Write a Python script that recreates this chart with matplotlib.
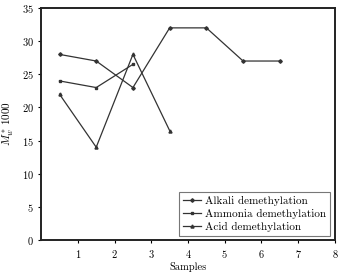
import matplotlib
matplotlib.use("Agg")
import matplotlib.pyplot as plt

plt.rcParams['font.family'] = 'serif'
plt.rcParams['font.serif'] = ['cmr10', 'DejaVu Serif']
plt.rcParams['mathtext.fontset'] = 'cm'
plt.rcParams['axes.formatter.use_mathtext'] = True

alkali_x = [0.5, 1.5, 2.5, 3.5, 4.5, 5.5, 6.5]
alkali_y = [28, 27, 23, 32, 32, 27, 27]
ammonia_x = [0.5, 1.5, 2.5]
ammonia_y = [24, 23, 26.5]
acid_x = [0.5, 1.5, 2.5, 3.5]
acid_y = [22, 14, 28, 16.5]

xticks = [1, 2, 3, 4, 5, 6, 7, 8]
yticks = [0, 5, 10, 15, 20, 25, 30, 35]

fig = plt.figure(figsize=(3.4, 2.75), dpi=100)
ax = fig.add_axes([0.121, 0.127, 0.864, 0.844])

lc = '#333333'
ax.plot(alkali_x, alkali_y, color=lc, lw=0.9, marker='D', ms=1.8, label='Alkali demethylation')
ax.plot(ammonia_x, ammonia_y, color=lc, lw=0.9, marker='s', ms=1.8, label='Ammonia demethylation')
ax.plot(acid_x, acid_y, color=lc, lw=0.9, marker='^', ms=2.2, label='Acid demethylation')

ax.set_xlim(0, 8)
ax.set_ylim(0, 35)
ax.set_xticks(xticks)
ax.set_yticks(yticks)
ax.tick_params(labelsize=7.5, length=2.5, width=0.8, direction='out', pad=3)
for s in ax.spines.values():
    s.set_linewidth(1.4)
    s.set_color('#222222')

ax.set_xlabel('Samples', fontsize=7.5, labelpad=2)
ax.set_ylabel(r'$M_w^*\,1000$', fontsize=8, labelpad=4)

leg = ax.legend(loc='lower right', fontsize=8, frameon=True, fancybox=False,
                edgecolor='#555555', handlelength=1.6, handletextpad=0.4,
                borderaxespad=0.4, labelspacing=0.25, borderpad=0.35)
leg.get_frame().set_linewidth(0.8)

fig.savefig('out.png', dpi=100)
